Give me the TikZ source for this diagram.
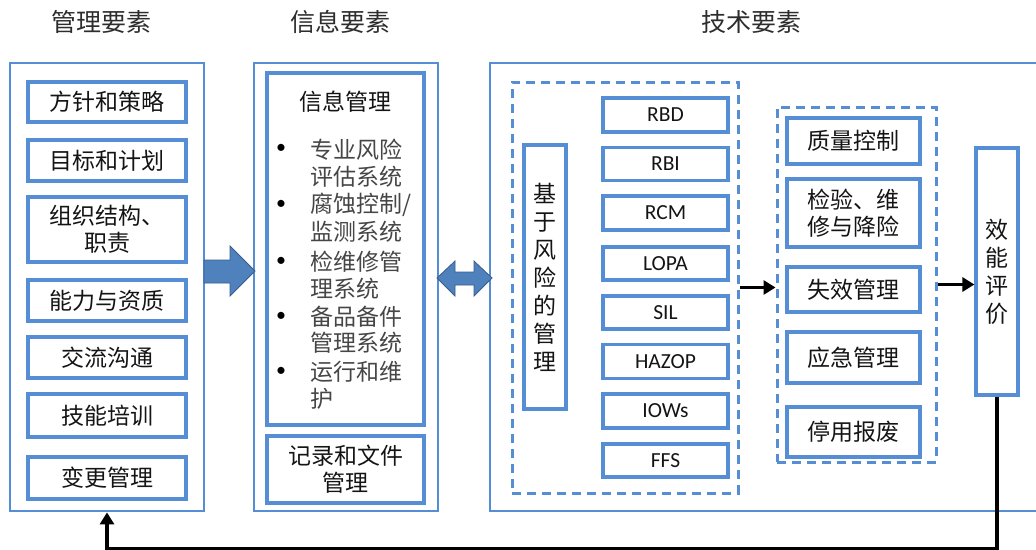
\documentclass[tikz,border=0pt]{standalone}
\usepackage{fontspec}
\setmainfont{Carlito}
\newfontfamily\cjk{Noto Sans CJK SC}
\usetikzlibrary{arrows.meta,calc}
\definecolor{bl}{RGB}{85,142,213}
\definecolor{fatb}{RGB}{79,129,189}
\definecolor{fatd}{RGB}{56,93,138}
\definecolor{txtc}{RGB}{20,20,20}
\definecolor{hdrc}{RGB}{45,45,45}
\definecolor{bulc}{RGB}{70,70,70}
\begin{document}
\begin{tikzpicture}[x=1pt,y=-1pt,
  obox/.style={draw=bl, line width=2.8pt, inner sep=0pt},
  mitem/.style={draw=bl, line width=3.2pt, inner sep=0pt, align=center, text=txtc, font=\cjk\fontsize{23}{27}\selectfont},
  litem/.style={mitem, font=\fontsize{21.5}{25}\selectfont},
  dbox/.style={draw=bl, line width=3pt, dash pattern=on 9pt off 6pt, inner sep=0pt},
  hdr/.style={text=hdrc, font=\cjk\fontsize{25}{30}\selectfont, inner sep=0pt},
  conn/.style={line width=3.2pt, -{Triangle[length=12pt,width=14pt]}},
  fat/.style={fill=fatb, draw=fatd, line width=0.8pt},
  bline/.style={anchor=west, inner sep=0pt, text=bulc, font=\cjk\fontsize{23}{27}\selectfont},
  bdot/.style={inner sep=0pt, text=black, font=\fontsize{20}{20}\selectfont}
]
\useasboundingbox (0,0) rectangle (1036,549);

% headers
\node[hdr] (h1) at (101,22) {管理要素};
\node[hdr] (h2) at (340,22) {信息要素};
\node[hdr] (h3) at (751,22) {技术要素};

% management column
\node[obox, minimum width=194pt, minimum height=448pt] (mgmt) at (107,287) {};
\node[mitem, minimum width=158pt, minimum height=40pt] (m1) at (107,102) {方针和策略};
\node[mitem, minimum width=158pt, minimum height=41pt] (m2) at (107,160.5) {目标和计划};
\node[mitem, minimum width=158pt, minimum height=65pt] (m3) at (107,229.5) {组织结构、\\职责};
\node[mitem, minimum width=158pt, minimum height=41pt] (m4) at (107,300.5) {能力与资质};
\node[mitem, minimum width=158pt, minimum height=41pt] (m5) at (107,357.5) {交流沟通};
\node[mitem, minimum width=158pt, minimum height=43pt] (m6) at (107,415.5) {技能培训};
\node[mitem, minimum width=158pt, minimum height=42pt] (m7) at (107,478) {变更管理};

% information column
\node[obox, minimum width=184pt, minimum height=448pt] (info) at (346,287) {};
\node[mitem, minimum width=157pt, minimum height=352pt] (infoin) at (345.5,249) {};
\node[mitem, minimum width=157pt, minimum height=67pt] (rec) at (345.5,469.5) {记录和文件\\管理};
\node[inner sep=0pt, text=txtc, font=\cjk\fontsize{23}{27}\selectfont] (ititle) at (345,102) {信息管理};

\node[bdot] (b1) at (281,149) {\textbullet};
\node[bdot] (b2) at (281,205) {\textbullet};
\node[bdot] (b3) at (281,262) {\textbullet};
\node[bdot] (b4) at (281,317) {\textbullet};
\node[bdot] (b5) at (281,372) {\textbullet};
\node[bline] (l1) at (310,150) {专业风险};
\node[bline] (l2) at (310,177) {评估系统};
\node[bline] (l3) at (310,205) {腐蚀控制/};
\node[bline] (l4) at (310,232) {监测系统};
\node[bline] (l5) at (310,262) {检维修管};
\node[bline] (l6) at (310,289) {理系统};
\node[bline] (l7) at (310,317) {备品备件};
\node[bline] (l8) at (310,343) {管理系统};
\node[bline] (l9) at (310,372) {运行和维};
\node[bline] (l10) at (310,399) {护};

% technical column
\draw[bl, line width=2.8pt] (1040,63) -- (490,63) -- (490,511) -- (1040,511);
\node[dbox, minimum width=226pt, minimum height=411pt] (d1) at (625,287.5) {};
\node[mitem, minimum width=42pt, minimum height=264pt, font=\cjk\fontsize{23}{28}\selectfont] (risk) at (545,277) {基\\于\\风\\险\\的\\管\\理};
\node[litem, minimum width=125pt, minimum height=34pt] (t1) at (665.5,115) {RBD};
\node[litem, minimum width=125pt, minimum height=33pt] (t2) at (665.5,164) {RBI};
\node[litem, minimum width=125pt, minimum height=34pt] (t3) at (665.5,213) {RCM};
\node[litem, minimum width=125pt, minimum height=33pt] (t4) at (665.5,263.5) {LOPA};
\node[litem, minimum width=125pt, minimum height=33pt] (t5) at (665.5,312.5) {SIL};
\node[litem, minimum width=125pt, minimum height=34pt] (t6) at (665.5,361.5) {HAZOP};
\node[litem, minimum width=125pt, minimum height=34pt] (t7) at (665.5,411) {IOWs};
\node[litem, minimum width=125pt, minimum height=33pt] (t8) at (665.5,460.5) {FFS};

\node[dbox, minimum width=159pt, minimum height=355pt] (d2) at (856.5,284.5) {};
\node[mitem, minimum width=133pt, minimum height=46pt] (q1) at (853.5,141) {质量控制};
\node[mitem, minimum width=133pt, minimum height=68pt] (q2) at (853.5,213) {检验、维\\修与降险};
\node[mitem, minimum width=133pt, minimum height=45pt] (q3) at (853.5,289.5) {失效管理};
\node[mitem, minimum width=133pt, minimum height=51pt] (q4) at (853.5,357.5) {应急管理};
\node[mitem, minimum width=133pt, minimum height=50pt] (q5) at (853.5,432) {停用报废};

\node[mitem, minimum width=42pt, minimum height=247pt, font=\cjk\fontsize{23}{28}\selectfont] (eval) at (997,271.5) {效\\能\\评\\价};

% block arrows
\draw[fat] (204,260) -- (230,260) -- (230,246) -- (255,271) -- (230,296) -- (230,283) -- (204,283) -- cycle;
\draw[fat] (437,278) -- (455,261) -- (455,272) -- (474,272) -- (474,261) -- (492,278) -- (474,296) -- (474,285) -- (455,285) -- (455,296) -- cycle;

% connectors
\draw[conn] (d1.east) -- (d1.east -| d2.west);
\draw[conn] (d2.east) -- (d2.east -| eval.west);
\draw[conn] (eval.south) |- ($(mgmt.south)+(0,36)$) -- (mgmt.south);
\end{tikzpicture}
\end{document}
